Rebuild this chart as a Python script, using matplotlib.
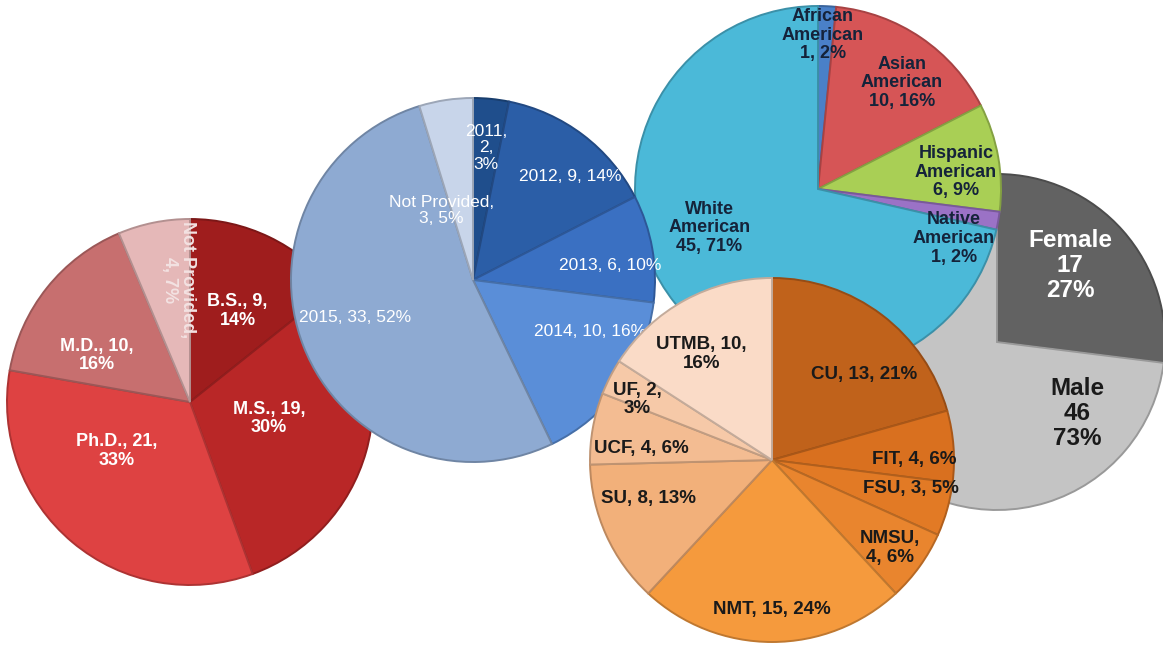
import numpy as np
import matplotlib.pyplot as plt
import matplotlib.colors as mcolors

plt.rcParams['font.family'] = ['Liberation Sans', 'DejaVu Sans']

# Degree held
degree_labels = ['B.S.', 'M.S.', 'Ph.D.', 'M.D.', 'Not Provided']
degree_counts = [9, 19, 21, 10, 4]
degree_pct = [14, 30, 33, 16, 7]
degree_colors = ['#9f1d1d', '#b92727', '#de4242', '#c76f6f', '#e5b8b8']

# Year of participation
year_labels = ['2011', '2012', '2013', '2014', '2015', 'Not Provided']
year_counts = [2, 9, 6, 10, 33, 3]
year_pct = [3, 14, 10, 16, 52, 5]
year_colors = ['#1f4e8c', '#2b5ea7', '#3a70c2', '#5a8ed8', '#8eaad2', '#c8d5ea']

# Ethnicity
eth_labels = ['African\nAmerican', 'Asian\nAmerican', 'Hispanic\nAmerican',
              'Native\nAmerican', 'White\nAmerican']
eth_counts = [1, 10, 6, 1, 45]
eth_pct = [2, 16, 9, 2, 71]
eth_colors = ['#4a80c8', '#d65556', '#a9cf55', '#9b72c6', '#4bb9d8']

# Home institution
uni_labels = ['CU', 'FIT', 'FSU', 'NMSU', 'NMT', 'SU', 'UCF', 'UF', 'UTMB']
uni_counts = [13, 4, 3, 4, 15, 8, 4, 2, 10]
uni_pct = [21, 6, 5, 6, 24, 13, 6, 3, 16]
uni_colors = ['#c0621b', '#d9701f', '#e27a25', '#e9852e', '#f59a3d',
              '#f2b07a', '#f3bc92', '#f6c9a8', '#fadbc7']

# Gender
gender_labels = ['Female', 'Male']
gender_counts = [17, 46]
gender_pct = [27, 73]
gender_colors = ['#626262', '#c4c4c4']

W, H = 1163, 648
fig = plt.figure(figsize=(W / 100, H / 100), dpi=100)
ax = fig.add_axes([0, 0, 1, 1])


def darker(c, f=0.75):
    r, g, b = mcolors.to_rgb(c)
    return (r * f, g * f, b * f)


def draw_pie(values, colors, center, radius, texts, lbl_r, lbl_shift, z,
             color='white', size=12, weight='bold', rot=None):
    cx, cy = center[0], H - center[1]
    wedges, _ = ax.pie(values, colors=colors, startangle=90, counterclock=False,
                       center=(cx, cy), radius=radius,
                       wedgeprops=dict(linewidth=1.4, zorder=z))
    for w, c in zip(wedges, colors):
        w.set_edgecolor(darker(c, 0.78))
    for i, (w, t) in enumerate(zip(wedges, texts)):
        ang = np.deg2rad((w.theta1 + w.theta2) / 2 + lbl_shift[i])
        x = cx + lbl_r[i] * radius * np.cos(ang)
        y = cy + lbl_r[i] * radius * np.sin(ang)
        col = color[i] if isinstance(color, list) else color
        ax.text(x, y, t, ha='center', va='center', color=col, fontsize=size,
                fontweight=weight, linespacing=1.12, zorder=z + 1,
                rotation=0 if rot is None else rot[i])


# red pie (back)
deg_txt = [f'{a}, {n},\n{p}%' for a, n, p in zip(degree_labels, degree_counts, degree_pct)]
deg_txt[-1] = f'Not Provided,\n{degree_counts[-1]}, {degree_pct[-1]}%'
draw_pie(degree_counts, degree_colors, (190, 402), 183, deg_txt,
         [0.56, 0.44, 0.48, 0.57, 0.67], [-2, 4, -16, 12, -6], 2,
         color=['white'] * 4 + ['#f3e2e2'], size=13, rot=[0, 0, 0, 0, -90])

# gray pie
gen_txt = [f'{a}\n{n}\n{p}%' for a, n, p in zip(gender_labels, gender_counts, gender_pct)]
draw_pie(gender_counts, gender_colors, (997, 342), 168, gen_txt,
         [0.63, 0.64], [5, -263], 4, color=['white', '#1a1a1a'], size=17.5)

# cyan pie
eth_txt = [f'{a}\n{n}, {p}%' for a, n, p in zip(eth_labels, eth_counts, eth_pct)]
draw_pie(eth_counts, eth_colors, (818, 189), 183, eth_txt,
         [0.84, 0.74, 0.76, 0.79, 0.63], [1, -4, -3, -10, -19], 6,
         color='#15233a', size=13)

# blue pie
yr_txt = [f'{a}, {n}, {p}%' for a, n, p in zip(year_labels, year_counts, year_pct)]
yr_txt[0] = f'{year_labels[0]},\n{year_counts[0]},\n{year_pct[0]}%'
yr_txt[-1] = f'Not Provided,\n{year_counts[-1]}, {year_pct[-1]}%'
draw_pie(year_counts, year_colors, (473, 280), 182, yr_txt,
         [0.73, 0.78, 0.76, 0.70, 0.68, 0.42], [0, -6, -4, 12, -4, 16], 8,
         size=12.5, weight='normal')

# orange pie (front)
uni_txt = [f'{a}, {n}, {p}%' for a, n, p in zip(uni_labels, uni_counts, uni_pct)]
uni_txt[3] = f'{uni_labels[3]},\n{uni_counts[3]}, {uni_pct[3]}%'
uni_txt[7] = f'{uni_labels[7]}, {uni_counts[7]},\n{uni_pct[7]}%'
uni_txt[8] = f'{uni_labels[8]}, {uni_counts[8]},\n{uni_pct[8]}%'
draw_pie(uni_counts, uni_colors, (772, 460), 182, uni_txt,
         [0.69, 0.78, 0.78, 0.81, 0.82, 0.71, 0.72, 0.81, 0.70],
         [-10, -4, 4, -1, 0, -7, 5, 3, 5], 10, color='#1a1a1a', size=13.5)

ax.set_xlim(0, W)
ax.set_ylim(0, H)
ax.set_aspect('equal')
ax.axis('off')
fig.savefig('out.png', dpi=100, facecolor='white')
